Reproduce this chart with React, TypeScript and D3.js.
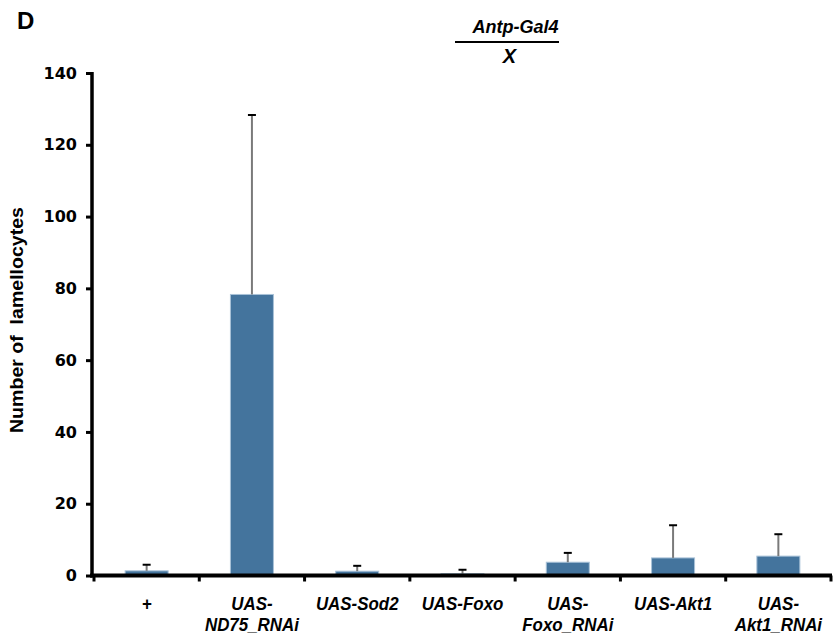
import React, { useRef, useEffect } from 'react';
import * as d3 from 'd3';

const categories: string[][] = [
  ['+'],
  ['UAS-', 'ND75_RNAi'],
  ['UAS-Sod2'],
  ['UAS-Foxo'],
  ['UAS-', 'Foxo_RNAi'],
  ['UAS-Akt1'],
  ['UAS-', 'Akt1_RNAi'],
];
const means = [1.3, 78.3, 1.2, 0.5, 3.7, 4.9, 5.4];
const errors = [1.7, 50.0, 1.5, 1.1, 2.6, 9.1, 6.1];
const yTicks = [0, 20, 40, 60, 80, 100, 120, 140];

const W = 833;
const H = 641;

const App: React.FC = () => {
  const ref = useRef<SVGSVGElement>(null);

  useEffect(() => {
    if (!ref.current) return;
    const svg = d3.select(ref.current);
    svg.selectAll('*').remove();

    const x0 = 92, x1 = 831, y0 = 575.5, y1 = 73;
    const x = d3.scaleBand<number>().domain(d3.range(categories.length)).range([x0 + 2, x1]).paddingInner(0).paddingOuter(0);
    const y = d3.scaleLinear().domain([0, 140]).range([y0, y1]);
    const barW = 43;

    // bars
    svg.append('g')
      .selectAll('rect')
      .data(means)
      .enter()
      .append('rect')
      .attr('x', (d, i) => x(i)! + x.bandwidth() / 2 - barW / 2)
      .attr('y', d => y(d))
      .attr('width', barW)
      .attr('height', d => y0 - y(d))
      .attr('fill', '#44749d')
      .attr('stroke', '#a9c2d8')
      .attr('stroke-width', 1);

    // error bars
    const eb = svg.append('g');
    means.forEach((m, i) => {
      const cx = x(i)! + x.bandwidth() / 2;
      eb.append('line')
        .attr('x1', cx).attr('x2', cx)
        .attr('y1', y(m)).attr('y2', y(m + errors[i]))
        .attr('stroke', '#7a7a7a').attr('stroke-width', 2);
      eb.append('line')
        .attr('x1', cx - 4).attr('x2', cx + 4)
        .attr('y1', y(m + errors[i])).attr('y2', y(m + errors[i]))
        .attr('stroke', '#000').attr('stroke-width', 2);
    });

    // y axis
    const yAxis = d3.axisLeft(y).tickValues(yTicks).tickSize(6).tickPadding(9);
    const gy = svg.append('g').attr('transform', `translate(${x0},0)`).call(yAxis);
    gy.select('.domain').remove();
    gy.append('line').attr('x1', 0).attr('x2', 0).attr('y1', y1 - 1).attr('y2', y0 + 2)
      .attr('stroke', '#000').attr('stroke-width', 3.5);
    gy.selectAll('.tick line').attr('stroke', '#000').attr('stroke-width', 3);
    gy.selectAll('.tick text')
      .attr('fill', '#000')
      .style('font-family', '"DejaVu Sans", Verdana, sans-serif')
      .style('font-weight', 'bold')
      .style('font-size', '16px');

    // x axis
    const xAxisScale = d3.scaleLinear().domain([0, categories.length]).range([x0 + 2, x1]);
    const gx = svg.append('g').attr('transform', `translate(0,${y0})`);
    gx.append('line').attr('x1', x0 - 2).attr('x2', x1 + 1).attr('y1', 0).attr('y2', 0)
      .attr('stroke', '#000').attr('stroke-width', 4);
    gx.selectAll('line.tk')
      .data(d3.range(categories.length + 1))
      .enter()
      .append('line')
      .attr('class', 'tk')
      .attr('x1', d => xAxisScale(d)).attr('x2', d => xAxisScale(d))
      .attr('y1', 0).attr('y2', 6)
      .attr('stroke', '#000').attr('stroke-width', 3);

    // x labels (slightly condensed bold italic)
    const lab = svg.append('g')
      .style('font-family', '"Liberation Sans", Arial, sans-serif')
      .style('font-weight', 'bold')
      .style('font-style', 'italic')
      .style('font-size', '18px')
      .attr('text-anchor', 'middle')
      .attr('fill', '#000');
    categories.forEach((lines, i) => {
      const cx = x(i)! + x.bandwidth() / 2;
      lines.forEach((t, j) => {
        lab.append('text')
          .attr('transform', `translate(${cx},${610 + j * 21}) scale(0.94,1)`)
          .text(t);
      });
    });

    // y label
    svg.append('text')
      .attr('transform', `translate(23,320) rotate(-90)`)
      .attr('text-anchor', 'middle')
      .attr('textLength', 226)
      .attr('lengthAdjust', 'spacingAndGlyphs')
      .style('font-family', '"Liberation Sans", Arial, sans-serif')
      .style('font-weight', 'bold')
      .style('font-size', '18px')
      .style('white-space', 'pre')
      .attr('fill', '#000')
      .text('Number of  lamellocytes');

    // panel letter
    svg.append('text')
      .attr('x', 17).attr('y', 29)
      .style('font-family', '"Liberation Sans", Arial, sans-serif')
      .style('font-weight', 'bold')
      .style('font-size', '24px')
      .text('D');

    // genotype header
    const hdr = svg.append('g')
      .style('font-family', '"Liberation Sans", Arial, sans-serif')
      .style('font-weight', 'bold')
      .style('font-style', 'italic')
      .attr('text-anchor', 'middle');
    hdr.append('text').attr('x', 515.5).attr('y', 33).style('font-size', '18px').text('Antp-Gal4');
    hdr.append('line').attr('x1', 455).attr('x2', 559).attr('y1', 42).attr('y2', 42)
      .attr('stroke', '#000').attr('stroke-width', 2);
    hdr.append('text').attr('x', 509.5).attr('y', 63).style('font-size', '20px').text('X');
  }, []);

  return <svg ref={ref} width={W} height={H} style={{ position: 'absolute', left: 0, top: 0 }}></svg>;
};

export default App;
